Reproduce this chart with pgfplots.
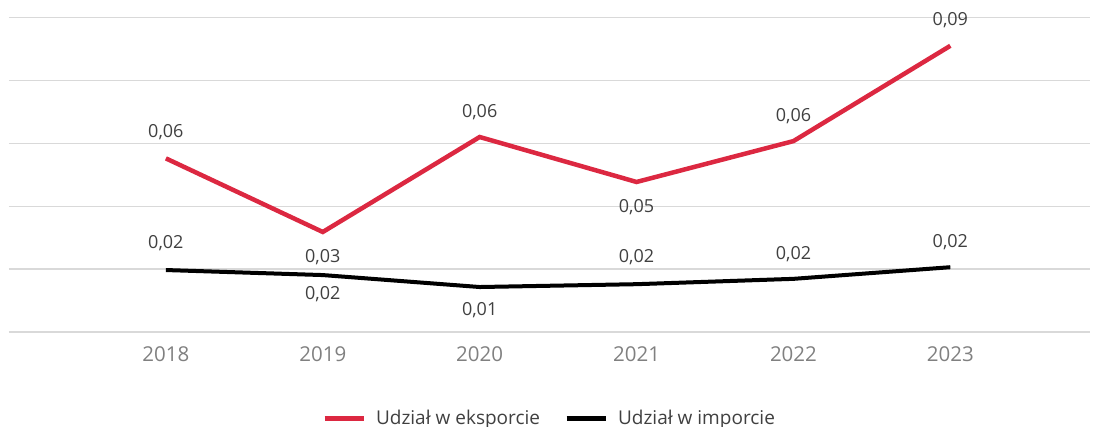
\documentclass[border=0pt]{standalone}
\usepackage{pgfplots}
\usepackage{pgfplotstable}
\pgfplotsset{compat=1.18}
\usepackage{fontspec}
\setmainfont{Open Sans}
\definecolor{expred}{RGB}{220,40,65}
\definecolor{labgray}{RGB}{64,64,64}
\definecolor{tickgray}{RGB}{128,128,128}
\definecolor{gridgray}{RGB}{217,217,217}
\pgfplotstableread{
x y lab dy
2018 0.0552 0,06 26
2019 0.0318 0,03 -25
2020 0.0620 0,06 25
2021 0.0477 0,05 -25
2022 0.0607 0,06 25
2023 0.0910 0,09 26
}\exporttable
\pgfplotstableread{
x y lab dy
2018 0.0197 0,02 27
2019 0.0181 0,02 -19
2020 0.0143 0,01 -23
2021 0.0152 0,02 27
2022 0.0169 0,02 25
2023 0.0206 0,02 25
}\importtable
\begin{document}
\begin{tikzpicture}
\useasboundingbox (0,0) rectangle (1093pt,427pt);
\begin{axis}[
  at={(9pt,95pt)}, anchor=south west,
  scale only axis, width=1081pt, height=314.5pt,
  xmin=2017, xmax=2023.89, ymin=0, ymax=0.1,
  xtick={2018,2019,2020,2021,2022,2023},
  xticklabels={2018,2019,2020,2021,2022,2023},
  xticklabel style={font=\fontsize{20.5}{24}\selectfont, text=tickgray, anchor=center, yshift=-22pt},
  ytick={0,0.02,0.04,0.06,0.08,0.1}, yticklabels={},
  ymajorgrids, grid style={gridgray, line width=1.3pt},
  axis line style={draw=none}, major tick length=0pt,
  clip=false,
  legend style={at={(0.5,-0.2735)}, anchor=center, draw=none, fill=none,
    font=\fontsize{19}{22}\selectfont, text=labgray,
    /tikz/every odd column/.append style={column sep=8pt},
    /tikz/every even column/.append style={column sep=22pt}},
  legend columns=2, legend cell align=left,
  legend image code/.code={\draw[#1, line width=5pt] (0,0) -- (39pt,0);},
]
\addplot[expred, line width=4.5pt, mark=none,
  nodes near coords, point meta=explicit symbolic,
  visualization depends on={\thisrow{dy} \as \dy},
  nodes near coords style={anchor=center, yshift=\dy pt, font=\fontsize{18}{20}\selectfont, text=labgray}]
  table[x=x, y=y, meta=lab] {\exporttable};
\addlegendentry{Udział w eksporcie}
\addplot[black, line width=4pt, mark=none,
  nodes near coords, point meta=explicit symbolic,
  visualization depends on={\thisrow{dy} \as \dy},
  nodes near coords style={anchor=center, yshift=\dy pt, font=\fontsize{18}{20}\selectfont, text=labgray}]
  table[x=x, y=y, meta=lab] {\importtable};
\addlegendentry{Udział w imporcie}
\end{axis}
\end{tikzpicture}
\end{document}
